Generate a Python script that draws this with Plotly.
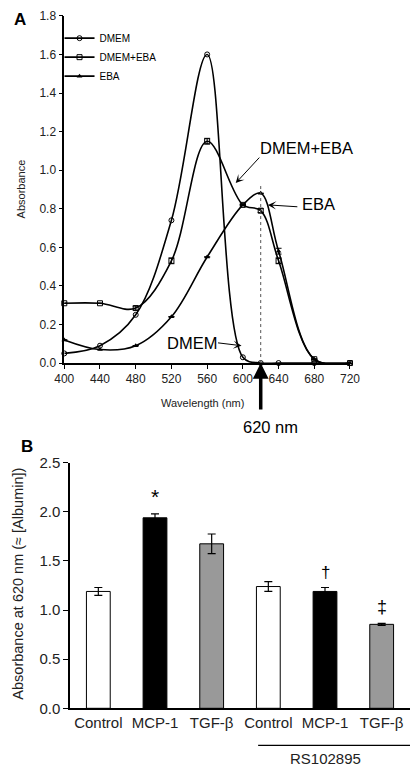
import plotly.graph_objects as go

# ---------------- Panel A data ----------------
wavelengths = [400, 440, 480, 520, 560, 600, 620, 640, 680, 720]
dmem = [0.05, 0.09, 0.25, 0.74, 1.60, 0.03, 0.00, 0.00, 0.00, 0.00]
dmem_eba = [0.31, 0.31, 0.285, 0.53, 1.15, 0.82, 0.79, 0.53, 0.02, 0.00]
eba = [0.12, 0.07, 0.09, 0.24, 0.55, 0.82, 0.88, 0.58, 0.02, 0.00]
dmem_eba_err = [0.0, 0.0, 0.01, 0.015, 0.015, 0.0, 0.01, 0.015, 0.0, 0.0]
eba_err = [0.0, 0.0, 0.0, 0.0, 0.0, 0.0, 0.0, 0.015, 0.0, 0.0]
series_names = ["DMEM", "DMEM+EBA", "EBA"]
a_xticks = [400, 440, 480, 520, 560, 600, 640, 680, 720]

# ---------------- Panel B data ----------------
b_labels = ["Control", "MCP-1", "TGF-β", "Control", "MCP-1", "TGF-β"]
b_values = [1.19, 1.94, 1.675, 1.24, 1.19, 0.855]
b_errors = [0.04, 0.04, 0.10, 0.05, 0.04, 0.01]
b_colors = ["white", "black", "#999999", "white", "black", "#999999"]
b_marks = ["", "*", "", "", "†", "‡"]
b_mark_sizes = [0, 21, 0, 0, 17, 18]

FONT = "Arial, Liberation Sans, sans-serif"
W, H = 420, 774

def px_x(p):
    return p / W

def px_y(p):
    return 1 - p / H

fig = go.Figure()

common_line = dict(color="black", width=1.6, shape="spline", smoothing=1.0)
fig.add_trace(go.Scatter(
    x=wavelengths, y=dmem, name=series_names[0], mode="lines+markers",
    line=common_line,
    marker=dict(symbol="circle-open", size=5, color="black", line=dict(width=1)),
    xaxis="x", yaxis="y", cliponaxis=False))
fig.add_trace(go.Scatter(
    x=wavelengths, y=dmem_eba, name=series_names[1], mode="lines+markers",
    line=common_line,
    marker=dict(symbol="square-open", size=5, color="black", line=dict(width=1)),
    error_y=dict(type="data", array=dmem_eba_err, color="black", thickness=1, width=3),
    xaxis="x", yaxis="y", cliponaxis=False))
fig.add_trace(go.Scatter(
    x=wavelengths, y=eba, name=series_names[2], mode="lines+markers",
    line=common_line,
    marker=dict(symbol="triangle-up", size=5, color="black"),
    error_y=dict(type="data", array=eba_err, color="black", thickness=1, width=3),
    xaxis="x", yaxis="y", cliponaxis=False))

fig.add_trace(go.Bar(
    x=list(range(len(b_labels))), y=b_values, width=0.42,
    marker=dict(color=b_colors, line=dict(color="black", width=1)),
    error_y=dict(type="data", array=b_errors, color="black", thickness=1.2, width=4),
    showlegend=False, xaxis="x2", yaxis="y2"))

axis_common = dict(showline=True, linecolor="black", linewidth=1.5, ticks="outside",
                   tickcolor="black", ticklen=4, tickwidth=1.2, showgrid=False, zeroline=False)
fa = dict(family=FONT, size=12, color="#222")
fb = dict(family=FONT, size=15, color="#222")

fig.update_layout(
    width=W, height=H, margin=dict(l=0, r=0, t=0, b=0),
    paper_bgcolor="white", plot_bgcolor="white",
    font=dict(family=FONT, color="black"),
    xaxis=dict(domain=[px_x(57), px_x(357)], range=[400, 720], tickvals=a_xticks,
               anchor="y", tickfont=fa, **axis_common),
    yaxis=dict(domain=[px_y(362), px_y(7)], range=[0, 1.8], dtick=0.2, tickformat=".1f",
               anchor="x", tickfont=fa, **axis_common),
    xaxis2=dict(domain=[px_x(63), 1.0], range=[-0.5, 5.5], tickvals=list(range(len(b_labels))),
                ticktext=b_labels, anchor="y2", tickfont=fb,
                **{**axis_common, "ticks": ""}),
    yaxis2=dict(domain=[px_y(715), px_y(464)], range=[0, 2.5], dtick=0.5, tickformat=".1f",
                anchor="x2", tickfont=fb, **{**axis_common, "ticklen": 5}),
    legend=dict(x=px_x(52), y=px_y(15), xanchor="left", yanchor="top",
                font=dict(family=FONT, size=10, color="black"), bgcolor="rgba(0,0,0,0)",
                itemwidth=30, tracegroupgap=0),
    showlegend=True,
)

def txt(text, xp, yp, size, angle=0, color="black"):
    return dict(text=text, x=px_x(xp), y=px_y(yp), xref="paper", yref="paper",
                xanchor="center", yanchor="middle", showarrow=False, textangle=angle,
                font=dict(size=size, family=FONT, color=color))

def arrow(x, y, ax, ay, head=3, width=1, size=1.4):
    return dict(text="", x=x, y=y, xref="x", yref="y", ax=ax, ay=ay, showarrow=True,
                arrowhead=head, arrowwidth=width, arrowsize=size, arrowcolor="black")

ann = []
ann.append(txt("<b>A</b>", 10, 11, 17))
ann.append(txt("<b>B</b>", 18, 447, 17))
ann.append(txt("Wavelength (nm)", 202, 403, 11, color="#222"))
ann.append(txt("Absorbance", 12, 184, 11, angle=-90, color="#222"))
ann.append(txt("Absorbance at 620 nm (≈ [Albumin])", 9, 588, 14.5, angle=-90, color="#222"))
ann.append(txt("DMEM+EBA", 311, 142, 16.5))
ann.append(arrow(592, 0.933, 25, -27))
ann.append(txt("EBA", 324, 199, 16.5))
ann.append(arrow(628, 0.82, 31, 2))
ann.append(txt("DMEM", 191, 342, 16.5))
ann.append(arrow(598.5, 0.09, -25, -3))
ann.append(arrow(620, 0, 0, 48, head=2, width=3.5, size=0.9))
ann.append(txt("620 nm", 273, 427, 16.5))
for i, (v, e, m, s) in enumerate(zip(b_values, b_errors, b_marks, b_mark_sizes)):
    if m:
        ann.append(dict(text=m, x=i, y=v + e, xref="x2", yref="y2", xanchor="center",
                        yanchor="bottom", yshift=4, showarrow=False,
                        font=dict(size=s, family=FONT)))
ann.append(dict(text="RS102895", x=4, y=px_y(766), xref="x2", yref="paper",
                xanchor="center", yanchor="middle", showarrow=False,
                font=dict(size=15, family=FONT, color="#222")))
fig.update_layout(annotations=ann)

shapes = []
shapes.append(dict(type="line", x0=620, x1=620, y0=0, y1=0.92, xref="x", yref="y",
                   line=dict(color="#555", width=1, dash="dot")))
shapes.append(dict(type="line", x0=2.82, x1=5.53, y0=px_y(753), y1=px_y(753),
                   xref="x2", yref="paper", line=dict(color="black", width=1.2)))
fig.update_layout(shapes=shapes)

fig.write_html("out.html", config={"displayModeBar": False},
               post_script="document.body.style.margin='0';")
